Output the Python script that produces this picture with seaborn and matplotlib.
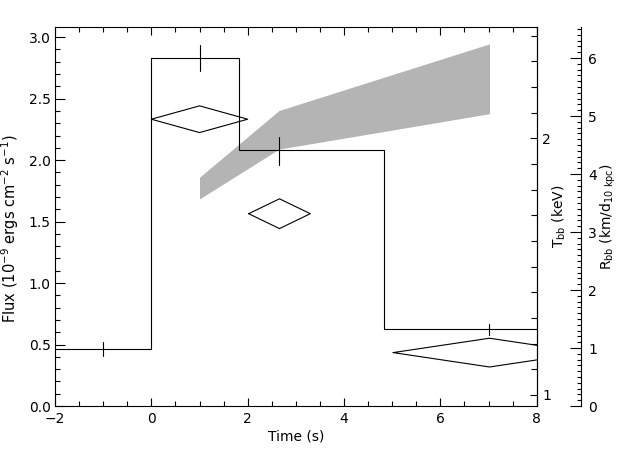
import numpy as np
import pandas as pd
import matplotlib
matplotlib.use("Agg")
import matplotlib.pyplot as plt
from matplotlib.ticker import MultipleLocator
import seaborn as sns

# ---- data ----
bin_edges = [-2.0, 0.0, 1.83, 4.84, 8.0]
flux_vals = [0.463, 2.827, 2.081, 0.626]
err_t = [-1.0, 1.02, 2.66, 7.02]
err_flux = [0.463, 2.83, 2.075, 0.622]
err_size = [0.06, 0.105, 0.115, 0.045]

diam_t = [1.0, 2.66, 7.02]
diam_halfwidth = [1.0, 0.64, 2.0]
diam_T = [2.074, 1.706, 1.165]
diam_Terr = [0.052, 0.058, 0.056]

band_t = [1.0, 2.65, 7.02]
band_R_low = [3.57, 4.43, 5.04]
band_R_high = [3.945, 5.095, 6.245]

sns.set_style("ticks")
plt.rcParams['font.family'] = ['DejaVu Sans']
plt.rcParams['mathtext.fontset'] = 'dejavusans'
for k in ['text.color', 'axes.labelcolor', 'xtick.color', 'ytick.color',
          'axes.edgecolor']:
    plt.rcParams[k] = 'black'

W, H = 640, 457
fig = plt.figure(figsize=(W / 100, H / 100), dpi=100)
x0, x1, yb, yt = 55, 536.7, 406, 27.3
ax = fig.add_axes([x0 / W, (H - yb) / H, (x1 - x0) / W, (yb - yt) / H])
axT = ax.twinx()
axR = ax.twinx()

lw = 0.8
# step histogram (flux)
step_df = pd.DataFrame({"t": bin_edges, "flux": flux_vals + [flux_vals[-1]]})
sns.lineplot(data=step_df, x="t", y="flux", ax=ax, color="black", lw=lw,
             drawstyle="steps-post", sort=False, estimator=None)
for t, f, e in zip(err_t, err_flux, err_size):
    ax.plot([t, t], [f - e, f + e], color="black", lw=lw)

# diamonds (T_bb)
for t, hw, T, e in zip(diam_t, diam_halfwidth, diam_T, diam_Terr):
    dx = [t - hw, t, t + hw, t, t - hw]
    dy = [T, T + e, T, T - e, T]
    axT.plot(dx, dy, color="black", lw=lw, clip_on=True)

# gray band (R_bb)
axR.fill_between(band_t, band_R_low, band_R_high, color="#b4b4b4", lw=0)

# layering: main axes on top
ax.set_zorder(3)
ax.patch.set_visible(False)
axT.set_zorder(2)
axT.patch.set_visible(False)
axR.set_zorder(1)

# main axes
ax.set_xlim(-2, 8)
ax.set_ylim(0, 3.08)
ax.xaxis.set_major_locator(MultipleLocator(2))
ax.xaxis.set_minor_locator(MultipleLocator(0.5))
ax.yaxis.set_major_locator(MultipleLocator(0.5))
ax.yaxis.set_minor_locator(MultipleLocator(0.1))
ax.yaxis.set_major_formatter(matplotlib.ticker.FormatStrFormatter('%.1f'))
ax.tick_params(axis='x', which='both', direction='in', top=True, bottom=True,
               labelsize=10, width=lw, pad=4)
ax.tick_params(axis='x', which='major', length=6)
ax.tick_params(axis='x', which='minor', length=3.3)
ax.tick_params(axis='y', which='both', direction='in', left=True, right=False,
               labelsize=10, width=lw, pad=3)
ax.tick_params(axis='y', which='major', length=7)
ax.tick_params(axis='y', which='minor', length=3.6)
for s in ax.spines.values():
    s.set_linewidth(lw)
ax.set_xlabel("Time (s)", fontsize=10)
ax.set_ylabel(r"Flux (10$^{-9}$ ergs cm$^{-2}$ s$^{-1}$)", fontsize=10.5)
ax.xaxis.set_label_coords(0.5, -0.063)
ax.yaxis.set_label_coords((21 - x0) / (x1 - x0), (yb - 229) / (yb - yt))

# T axis
axT.set_ylim(0.957, 2.432)
axT.yaxis.set_major_locator(MultipleLocator(1))
axT.yaxis.set_minor_locator(MultipleLocator(0.1))
axT.yaxis.set_major_formatter(matplotlib.ticker.FormatStrFormatter('%d'))
axT.tick_params(axis='y', which='both', direction='in', labelsize=10, width=lw, pad=4)
axT.tick_params(axis='y', which='major', length=5.2)
axT.tick_params(axis='y', which='minor', length=4.0)
for k, s in axT.spines.items():
    s.set_visible(k == 'right')
    s.set_linewidth(lw)
axT.set_ylabel(r"T$_{\rm bb}$ (keV)", fontsize=10)
axT.yaxis.set_label_coords((551 - x0) / (x1 - x0), 0.5)

# R axis
axR.set_ylim(0, 6.53)
axR.spines['right'].set_position(('axes', (581 - x0) / (x1 - x0)))
for k, s in axR.spines.items():
    s.set_visible(k == 'right')
    s.set_linewidth(lw)
axR.yaxis.set_major_locator(MultipleLocator(1))
axR.yaxis.set_minor_locator(MultipleLocator(0.1))
axR.tick_params(axis='y', which='both', direction='in', labelsize=10, width=lw, pad=5)
axR.tick_params(axis='y', which='major', length=8)
axR.tick_params(axis='y', which='minor', length=3.2)
axR.set_ylabel(r"R$_{\rm bb}$ (km/d$_{\rm 10\ kpc}$)", fontsize=10)
axR.yaxis.set_label_coords((599 - x0) / (x1 - x0), 0.5)

fig.savefig("out.png", dpi=100, facecolor="white")
